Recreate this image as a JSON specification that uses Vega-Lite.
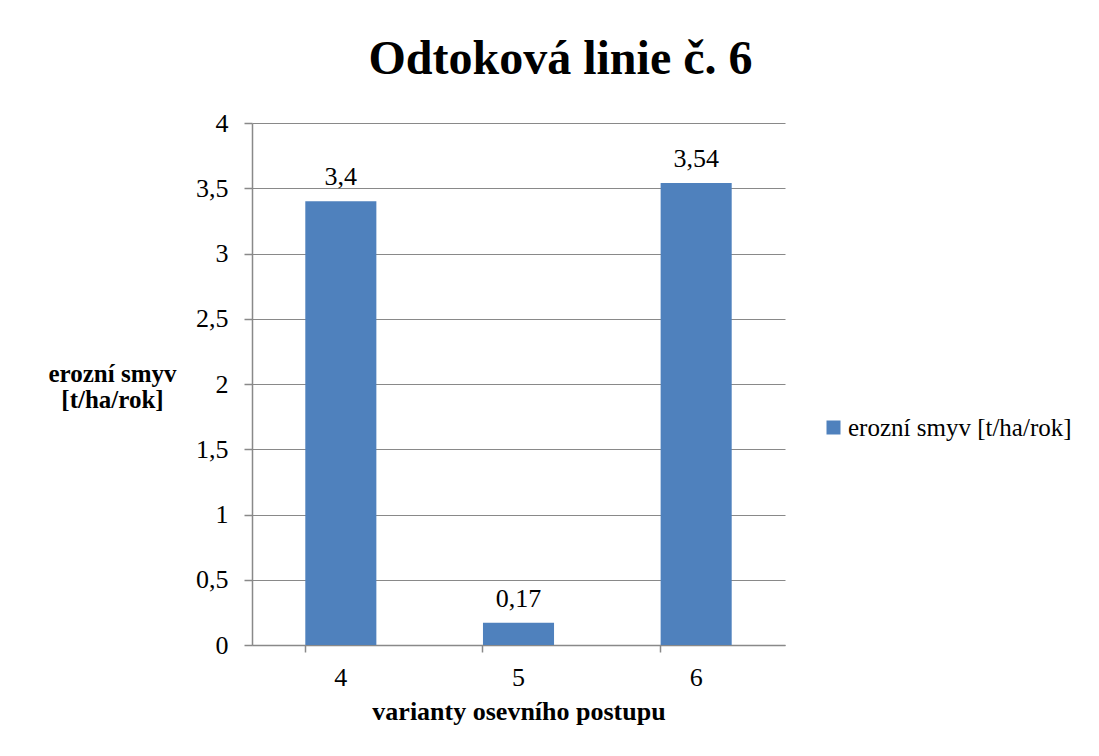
{
  "$schema": "https://vega.github.io/schema/vega-lite/v6.json",
  "autosize": "none",
  "width": 533,
  "height": 522,
  "padding": {"left": 252, "top": 123, "right": 314, "bottom": 111},
  "background": "white",
  "config": {
    "locale": {"number": {"decimal": ",", "thousands": " ", "grouping": [3], "currency": ["", " Kč"]}},
    "font": "Liberation Serif",
    "view": {"stroke": null}
  },
  "title": {
    "text": "Odtoková linie č. 6",
    "font": "Liberation Serif",
    "fontSize": 48,
    "fontWeight": "bold",
    "color": "black",
    "anchor": "middle",
    "dx": 42,
    "offset": 26
  },
  "data": {
    "values": [
      {"varianta": "4", "smyv": 3.4, "serie": "erozní smyv [t/ha/rok]"},
      {"varianta": "5", "smyv": 0.17, "serie": "erozní smyv [t/ha/rok]"},
      {"varianta": "6", "smyv": 3.54, "serie": "erozní smyv [t/ha/rok]"}
    ]
  },
  "encoding": {
    "x": {
      "field": "varianta",
      "type": "nominal",
      "scale": {"paddingInner": 0.6, "paddingOuter": 0.3},
      "axis": {
        "title": "varianty osevního postupu",
        "titleFont": "Liberation Serif",
        "titleFontSize": 26,
        "titleFontWeight": "bold",
        "titleColor": "black",
        "titlePadding": 8,
        "labelAngle": 0,
        "labelFont": "Liberation Serif",
        "labelFontSize": 26,
        "labelColor": "black",
        "labelPadding": 12,
        "domainColor": "#898989",
        "domainWidth": 1.5,
        "tickColor": "#898989",
        "tickWidth": 1.5,
        "tickSize": 7,
        "bandPosition": 0,
        "grid": false
      }
    },
    "y": {
      "field": "smyv",
      "type": "quantitative",
      "scale": {"domain": [0, 4], "nice": false},
      "axis": {
        "values": [0, 0.5, 1, 1.5, 2, 2.5, 3, 3.5, 4],
        "format": "~g",
        "title": ["erozní smyv", "[t/ha/rok]"],
        "titleAngle": 0,
        "titleAlign": "center",
        "titleBaseline": "middle",
        "titleX": -140,
        "titleY": 250,
        "titleFont": "Liberation Serif",
        "titleFontSize": 25,
        "titleFontWeight": "bold",
        "titleColor": "black",
        "titleLineHeight": 26,
        "labelFont": "Liberation Serif",
        "labelFontSize": 26,
        "labelColor": "black",
        "labelPadding": 16,
        "domainColor": "#898989",
        "domainWidth": 1.5,
        "tickColor": "#898989",
        "tickWidth": 1.5,
        "tickSize": 8,
        "grid": true,
        "gridColor": "#898989",
        "gridWidth": 1.2
      }
    }
  },
  "layer": [
    {
      "mark": {"type": "bar"},
      "encoding": {
        "color": {
          "field": "serie",
          "type": "nominal",
          "scale": {"range": ["#4F81BD"]},
          "legend": {
            "title": null,
            "orient": "none",
            "legendX": 569,
            "legendY": 292,
            "symbolType": "square",
            "symbolSize": 196,
            "symbolStrokeWidth": 0,
            "labelFont": "Liberation Serif",
            "labelFontSize": 25,
            "labelColor": "black",
            "labelOffset": 2,
            "labelLimit": 0
          }
        }
      }
    },
    {
      "mark": {"type": "text", "baseline": "alphabetic", "dy": -16, "fontSize": 26, "font": "Liberation Serif", "color": "black"},
      "encoding": {
        "text": {"field": "smyv", "type": "quantitative", "format": "~g"}
      }
    }
  ]
}
